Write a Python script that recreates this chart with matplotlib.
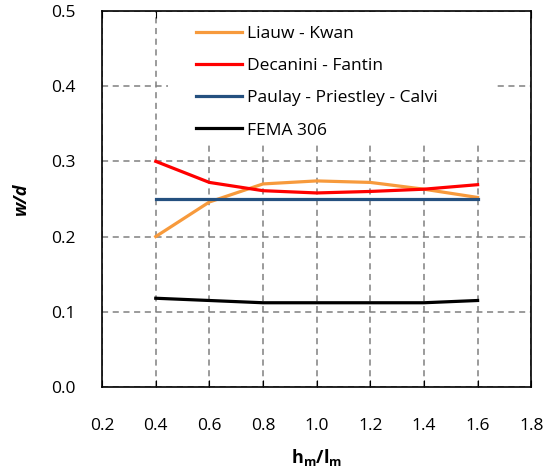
import matplotlib
matplotlib.use("Agg")
import matplotlib.pyplot as plt
from matplotlib.patches import Rectangle

plt.rcParams['font.family'] = ['Open Sans', 'DejaVu Sans']
plt.rcParams['mathtext.fontset'] = 'custom'
plt.rcParams['mathtext.bf'] = 'Open Sans:bold'
plt.rcParams['mathtext.it'] = 'Open Sans:italic'
plt.rcParams['mathtext.rm'] = 'Open Sans'

x = [0.4, 0.6, 0.8, 1.0, 1.2, 1.4, 1.6]
liauw_kwan = [0.200, 0.246, 0.270, 0.274, 0.272, 0.263, 0.252]
decanini_fantin = [0.300, 0.272, 0.261, 0.258, 0.260, 0.263, 0.269]
paulay_priestley_calvi = [0.250, 0.250, 0.250, 0.250, 0.250, 0.250, 0.250]
fema_306 = [0.118, 0.115, 0.112, 0.112, 0.112, 0.112, 0.115]

labels = ["Liauw - Kwan", "Decanini - Fantin", "Paulay - Priestley - Calvi", "FEMA 306"]
colors = ["#F79A3C", "#FF0000", "#24507F", "#000000"]
series = [liauw_kwan, decanini_fantin, paulay_priestley_calvi, fema_306]

xticks = [0.2, 0.4, 0.6, 0.8, 1.0, 1.2, 1.4, 1.6, 1.8]
yticks = [0.0, 0.1, 0.2, 0.3, 0.4, 0.5]

fig = plt.figure(figsize=(5.46, 4.76), dpi=100)
ax = fig.add_axes([0.187, 0.187, 0.786, 0.790])

for y, lab, c in zip(series, labels, colors):
    ax.plot(x, y, color=c, linewidth=2.3, label=lab, zorder=3)

ax.set_xlim(0.2, 1.8)
ax.set_ylim(0.0, 0.5)
ax.set_xticks(xticks)
ax.set_yticks(yticks)
ax.set_xticklabels([f"{v:.1f}" for v in xticks], fontsize=12.5)
ax.set_yticklabels([f"{v:.1f}" for v in yticks], fontsize=12.5)
ax.tick_params(axis='x', direction='in', length=5, pad=22, top=True)
ax.tick_params(axis='y', length=0, pad=19)
ax.grid(True, linestyle=(0, (4, 3)), color="#808080", linewidth=1.1)
for s in ax.spines.values():
    s.set_linewidth(1.2)

ax.set_xlabel(r"$\mathbf{h_m/l_m}$", fontsize=13, labelpad=10)
ax.set_ylabel("w/d", fontsize=13, fontweight='bold', fontstyle='italic', labelpad=15)

# white plot-area box behind the legend (hides the gridlines there)
ax.add_patch(Rectangle((0.154, 0.644), 0.764, 0.353, transform=ax.transAxes,
                       facecolor='white', edgecolor='none', zorder=1.8))

ax.legend(loc='upper left', bbox_to_anchor=(0.195, 0.989), frameon=False, fontsize=12.5,
          handlelength=2.65, labelspacing=0.93, handletextpad=0.3, borderpad=0.6,
          borderaxespad=0)

fig.savefig("out.png", dpi=100)
